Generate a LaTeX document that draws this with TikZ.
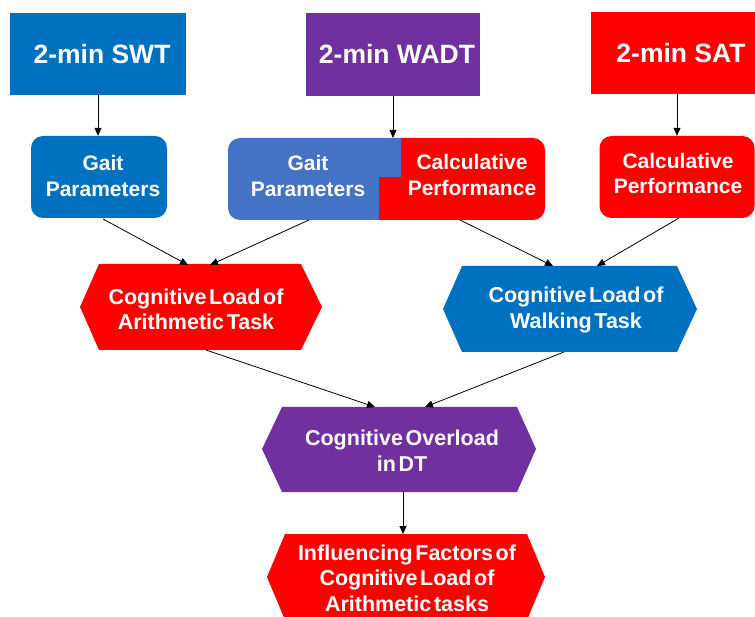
\documentclass[tikz,border=0pt]{standalone}
\usepackage{fontspec}
\setmainfont{Liberation Sans}
\newfontfamily\tightsans[WordSpace=0.45]{Liberation Sans}
\usetikzlibrary{arrows.meta}
\definecolor{cblue}{HTML}{0070C0}
\definecolor{lblue}{HTML}{4472C4}
\definecolor{cpurple}{HTML}{7030A0}
\definecolor{cred}{HTML}{FF0000}
\begin{document}
\begin{tikzpicture}[x=1pt,y=-1pt,
 topbox/.style={rectangle, minimum width=176pt, minimum height=82pt, inner sep=0pt},
 toplbl/.style={text=white, inner sep=0pt, font=\fontsize{26.5}{30}\selectfont\bfseries},
 rbox/.style={rectangle, rounded corners=12pt, minimum height=82pt, inner sep=0pt},
 lbl/.style={text=white, align=center, inner sep=0pt, font=\fontsize{21}{25.5}\selectfont\bfseries},
 hexlbl/.style={text=white, align=center, inner sep=0pt, font=\tightsans\fontsize{21.5}{25.5}\selectfont\bfseries},
 arr/.style={-{Triangle[length=8pt,width=7pt]}, line width=0.8pt, black}]
\useasboundingbox (0,0) rectangle (755,617);
\fill[white] (0,0) rectangle (755,617);
\clip (0,0) rectangle (755,617);
% top boxes
\node[topbox, fill=cblue] (swt) at (98,54) {};
\node[toplbl] (swttxt) at (102,54) {2-min SWT};
\node[topbox, fill=cpurple, minimum width=174pt, minimum height=83pt] (wadt) at (393,54.5) {};
\node[toplbl] (wadttxt) at (397,54) {2-min WADT};
\node[topbox, fill=cred] (sat) at (679,53) {};
\node[toplbl] (sattxt) at (681,53) {2-min SAT};
% second row
\node[rbox, fill=cblue, minimum width=136pt] (gait1) at (99,177) {};
\node[lbl] (gait1txt) at (103,176) {Gait\\Parameters};
\fill[lblue, rounded corners=12pt] (228,138) rectangle (401,220);
\fill[cred, rounded corners=12pt] (379,138) rectangle (545,220);
\fill[cred] (379,177) rectangle (400,220);
\fill[lblue] (379,138) rectangle (401,177);
\node[lbl] (gait2) at (308,176) {Gait\\Parameters};
\node[lbl] (calc1) at (472,175) {Calculative\\Performance};
\node[rbox, fill=cred, minimum width=155pt] (calc2) at (677,177) {};
\node[lbl] (calc2txt) at (678,173.5) {Calculative\\Performance};
% hexagons
\fill[cred] (80,307) -- (99,264) -- (301,264) -- (322,307) -- (301,350) -- (99,350) -- cycle;
\node[hexlbl] (hexA) at (196,309.5) {Cognitive Load of\\Arithmetic Task};
\fill[cblue] (443,309) -- (462,266) -- (677,266) -- (697,309) -- (677,352) -- (462,352) -- cycle;
\node[hexlbl] (hexB) at (576,310) {Cognitive Load of\\Walking Task};
\fill[cpurple] (262,449) -- (282,407) -- (517,407) -- (536,449) -- (517,492) -- (282,492) -- cycle;
\node[hexlbl] (over) at (402,450.5) {Cognitive Overload\\in DT};
\fill[cred] (267,577) -- (285,534) -- (527,534) -- (545,577) -- (527,620) -- (285,620) -- cycle;
\node[hexlbl] (infl) at (407,578) {Influencing Factors of\\Cognitive Load of\\Arithmetic tasks};
% connector end points
\coordinate (wadtout) at (393,96);
\coordinate (wadtin) at (393,138);
\coordinate (g1out) at (103,219);
\coordinate (g2out) at (309,220);
\coordinate (c1out) at (460,220);
\coordinate (c2out) at (679,218);
\coordinate (hAin1) at (188,265);
\coordinate (hAin2) at (210,265);
\coordinate (hBin1) at (553,266);
\coordinate (hBin2) at (597,266);
\coordinate (hAout) at (206,350);
\coordinate (hBout) at (564,352);
\coordinate (ovin1) at (375,407);
\coordinate (ovin2) at (425,407);
\coordinate (ovout) at (403,492);
\coordinate (inflin) at (403,534);
% connectors
\draw[arr] (swt.south) -- (swt.south |- gait1.north);
\draw[arr] (wadtout) -- (wadtin);
\draw[arr] (sat.south -| calc2.north) -- (calc2.north);
\draw[arr] (g1out) -- (hAin1);
\draw[arr] (g2out) -- (hAin2);
\draw[arr] (c1out) -- (hBin1);
\draw[arr] (c2out) -- (hBin2);
\draw[arr] (hAout) -- (ovin1);
\draw[arr] (hBout) -- (ovin2);
\draw[arr] (ovout) -- (inflin);
\end{tikzpicture}
\end{document}
